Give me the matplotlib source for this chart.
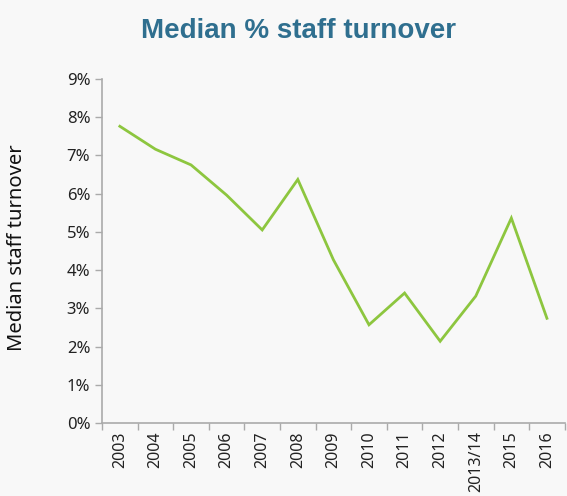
import matplotlib
matplotlib.use("Agg")
import matplotlib.pyplot as plt
from matplotlib.ticker import FixedLocator, PercentFormatter

categories = ["2003", "2004", "2005", "2006", "2007", "2008", "2009",
              "2010", "2011", "2012", "2013/14", "2015", "2016"]
turnover = [7.76, 7.16, 6.75, 5.96, 5.05, 6.37, 4.27,
            2.57, 3.40, 2.14, 3.32, 5.36, 2.74]
y_ticks = [0, 1, 2, 3, 4, 5, 6, 7, 8, 9]

bg = "#f8f8f8"
fig = plt.figure(figsize=(5.67, 4.96), dpi=100, facecolor=bg)
ax = fig.add_axes([0.18, 0.147, 0.816, 0.694], facecolor=bg)

x = list(range(len(categories)))
ax.plot(x, turnover, color="#8dc63f", linewidth=2.0, solid_joinstyle="miter")

ax.set_xlim(-0.5, len(categories) - 0.5)
ax.set_ylim(0, 9)
ax.set_yticks(y_ticks)
ax.yaxis.set_major_formatter(PercentFormatter(decimals=0))

ax.set_xticks(x)
ax.set_xticklabels(categories, rotation=90, fontsize=11.5, family="Noto Sans", color="#222222")
ax.tick_params(axis="x", which="major", length=0, pad=6)
ax.xaxis.set_minor_locator(FixedLocator([i - 0.5 for i in range(len(categories) + 1)]))
ax.tick_params(axis="x", which="minor", length=5, color="#aaaaaa", width=1)
ax.tick_params(axis="y", length=5, color="#aaaaaa", width=1, labelsize=12, labelcolor="#222222")
for lab in ax.get_yticklabels():
    lab.set_family("Noto Sans")

for s in ["top", "right"]:
    ax.spines[s].set_visible(False)
for s in ["left", "bottom"]:
    ax.spines[s].set_color("#aaaaaa")
    ax.spines[s].set_linewidth(1.2)

fig.text(0.03, 0.5, "Median staff turnover", rotation=90, ha="center", va="center",
         fontsize=14.5, family="Noto Sans", color="#111111")
fig.text(0.527, 0.937, "Median % staff turnover", ha="center", va="center",
         fontsize=20, fontweight="bold", family="Liberation Sans",
         color="#2f6f8f")

fig.savefig("out.png", dpi=100, facecolor=bg)
